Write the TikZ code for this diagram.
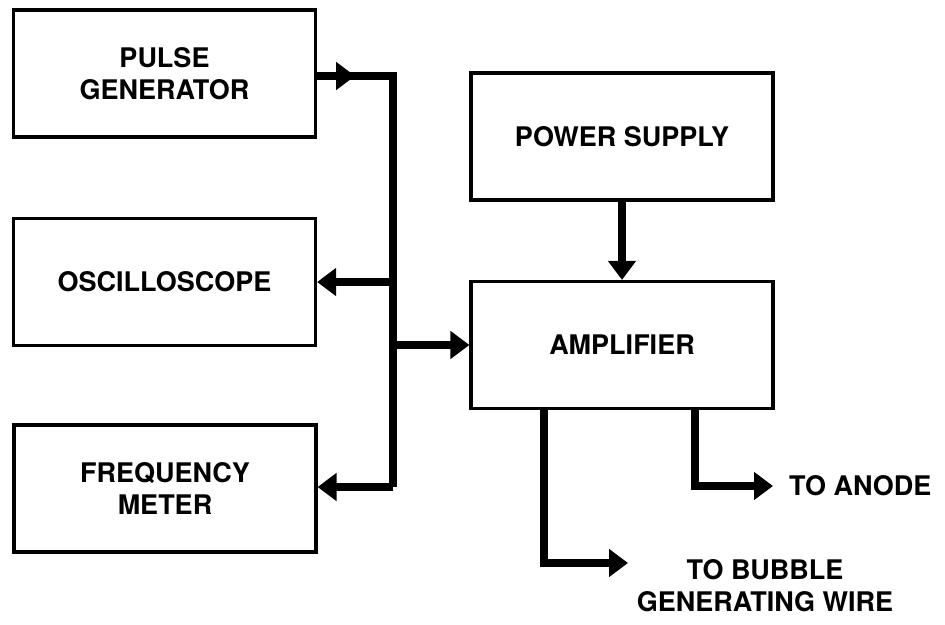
\documentclass[tikz,border=0pt]{standalone}
\usepackage{fontspec}
\setmainfont{TeX Gyre Heros}
\usepackage{tikz}
\usetikzlibrary{positioning, arrows.meta, calc}

\begin{document}
\begin{tikzpicture}[
  x=1pt, y=-1pt,
  box/.style={draw, line width=3.2pt, minimum width=302pt, minimum height=127pt,
              inner sep=0pt, align=center, font=\fontsize{27}{32}\selectfont\bfseries},
  ar/.style={-{Triangle[length=19pt, width=27pt]}, line width=8pt},
  bus/.style={line width=8pt, line join=miter},
  lbl/.style={inner sep=0pt, align=center, font=\fontsize{27}{32}\selectfont\bfseries},
]
  \useasboundingbox (0,0) rectangle (945,624);

  \node[box] (pulse) at (164.5,73.5) {PULSE\\GENERATOR};
  \node[box] (scope) at (164.5,282) {OSCILLOSCOPE};
  \node[box] (freq)  at (165,488.5) {FREQUENCY\\METER};
  \node[box] (power) at (622,136.5) {POWER SUPPLY};
  \node[box] (amp)   at (622,345) {AMPLIFIER};

  \coordinate (busTop) at (393,76);
  \coordinate (busBot) at (393,487);
  \coordinate (bubEnd) at (628,563);
  \coordinate (anodeEnd) at (773,486);

  \node[lbl, anchor=west] (anode) at (789,486) {TO ANODE};
  \node[lbl] (bubble) at (765,586) {TO BUBBLE\\GENERATING WIRE};

  % bus on the left
  \draw[bus] (pulse.east |- busTop) -- (busTop) -- (busBot);
  \draw[ar] (pulse.east |- busTop) -- ++(38,0);
  \draw[ar] (busTop |- scope.east) -- (scope.east);
  \draw[ar] (busBot) -- (busBot -| freq.east);
  \draw[ar] (busTop |- amp.west) -- (amp.west);

  \draw[ar] (power) -- (amp);

  % outputs
  \draw[ar] ([xshift=-78pt]amp.south) |- (bubEnd);
  \draw[ar] ([xshift=73pt]amp.south) |- (anodeEnd);
\end{tikzpicture}
\end{document}
